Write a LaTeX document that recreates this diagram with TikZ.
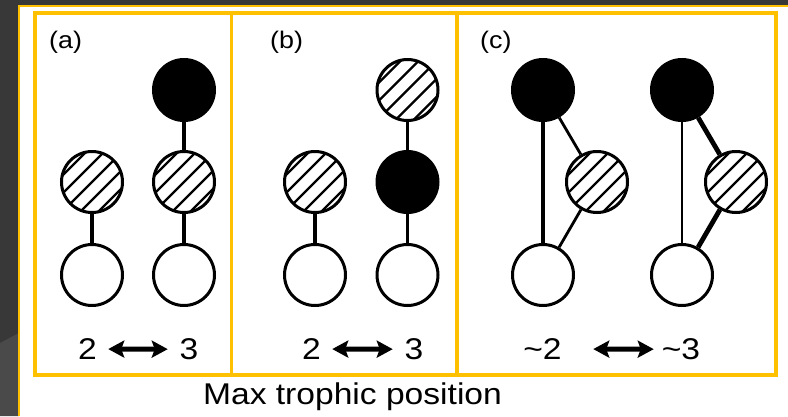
\documentclass[tikz,border=0pt]{standalone}
\usepackage{fontspec}
\setmainfont{Liberation Sans}[FakeStretch=1.12]
\usetikzlibrary{arrows.meta}
\definecolor{gold}{HTML}{FFC000}
\definecolor{darkbg}{HTML}{383838}
\definecolor{darkbgb}{HTML}{4A4A4A}
\tikzset{
  frame/.style={gold, line width=3.5pt},
  pop/.style={circle, draw=black, line width=3pt, minimum size=61pt, inner sep=0pt},
  blackc/.style={pop, fill=black},
  openc/.style={pop, fill=white},
  hatc/.style={pop, fill=white, path picture={
      \foreach \k in {-3,...,3}
        \draw[line width=2.2pt] ([shift={(\k*18-40,40)}]path picture bounding box.center) -- ++(80,-80);}},
  link/.style={line width=3.3pt},
  thinl/.style={line width=2.8pt},
  thickl/.style={line width=4.8pt},
  lbl/.style={font=\fontsize{24}{28}\selectfont, inner sep=0pt, anchor=base west},
  num/.style={font=\fontsize{30}{36}\selectfont, inner sep=0pt, anchor=base},
  dbl/.style={line width=5pt, {Stealth[length=16pt,width=17pt,inset=3pt]}-{Stealth[length=16pt,width=17pt,inset=3pt]}},
}
\begin{document}
\begin{tikzpicture}[x=1pt,y=-1pt]
\useasboundingbox (0,0) rectangle (788,416);
\fill[white] (0,0) rectangle (788,416);
\fill[darkbg] (0,0) rectangle (788,6);
\fill[darkbg] (0,0) rectangle (19,416);
\fill[darkbgb] (0,343) -- (19,333) -- (19,416) -- (0,416) -- cycle;
\draw[gold, line width=2.5pt] (19,416) -- (19,6) -- (788,6);
\draw[frame] (35,13) rectangle (776,375);
\draw[frame] (231.5,13) -- (231.5,375);
\draw[frame] (457,13) -- (457,375);

% panel (a)
\node[lbl] (la) at (49,48) {(a)};
\node[hatc] (a1) at (92,182) {};
\node[openc] (a2) at (92,275) {};
\node[blackc] (a3) at (184,90) {};
\node[hatc] (a4) at (184,182) {};
\node[openc] (a5) at (184,275) {};
\draw[link] (a1) -- (a2);
\draw[link] (a3) -- (a4);
\draw[link] (a4) -- (a5);
\node[num] (na2) at (87.5,359.5) {2};
\node[num] (na3) at (189,359.5) {3};
\draw[dbl, shorten <=11.2pt, shorten >=11.7pt] (na2.east) -- (na3.west);

% panel (b)
\node[lbl] (lb) at (270,48) {(b)};
\node[hatc] (b1) at (315,182) {};
\node[openc] (b2) at (315,275) {};
\node[hatc] (b3) at (407.5,90) {};
\node[blackc] (b4) at (407.5,182) {};
\node[openc] (b5) at (407.5,275) {};
\draw[link] (b1) -- (b2);
\draw[link] (b3) -- (b4);
\draw[link] (b4) -- (b5);
\node[num] (nb2) at (311.5,359.5) {2};
\node[num] (nb3) at (414,359.5) {3};
\draw[dbl, shorten <=11.2pt, shorten >=11.7pt] (nb2.east) -- (nb3.west);

% panel (c)
\node[lbl] (lc) at (480,48) {(c)};
\node[blackc] (c1) at (543,90) {};
\node[hatc] (c2) at (597,182) {};
\node[openc] (c3) at (543,275) {};
\node[blackc] (c4) at (682,90) {};
\node[hatc] (c5) at (736,182) {};
\node[openc] (c6) at (682,275) {};
\draw[thickl] (c1) -- (c3);
\draw[thinl] (c1) -- (c2);
\draw[thinl] (c2) -- (c3);
\draw[thinl] (c4) -- (c6);
\draw[thickl] (c4) -- (c5);
\draw[thickl] (c5) -- (c6);
\node[num] (nc2) at (542.5,359.5) {\char"007E 2};
\node[num] (nc3) at (681,359.5) {\char"007E 3};
\draw[dbl, shorten <=31.4pt, shorten >=7.9pt] (nc2.east) -- (nc3.west);

\node[num] (cap) at (352.5,404) {Max trophic position};
\end{tikzpicture}
\end{document}
